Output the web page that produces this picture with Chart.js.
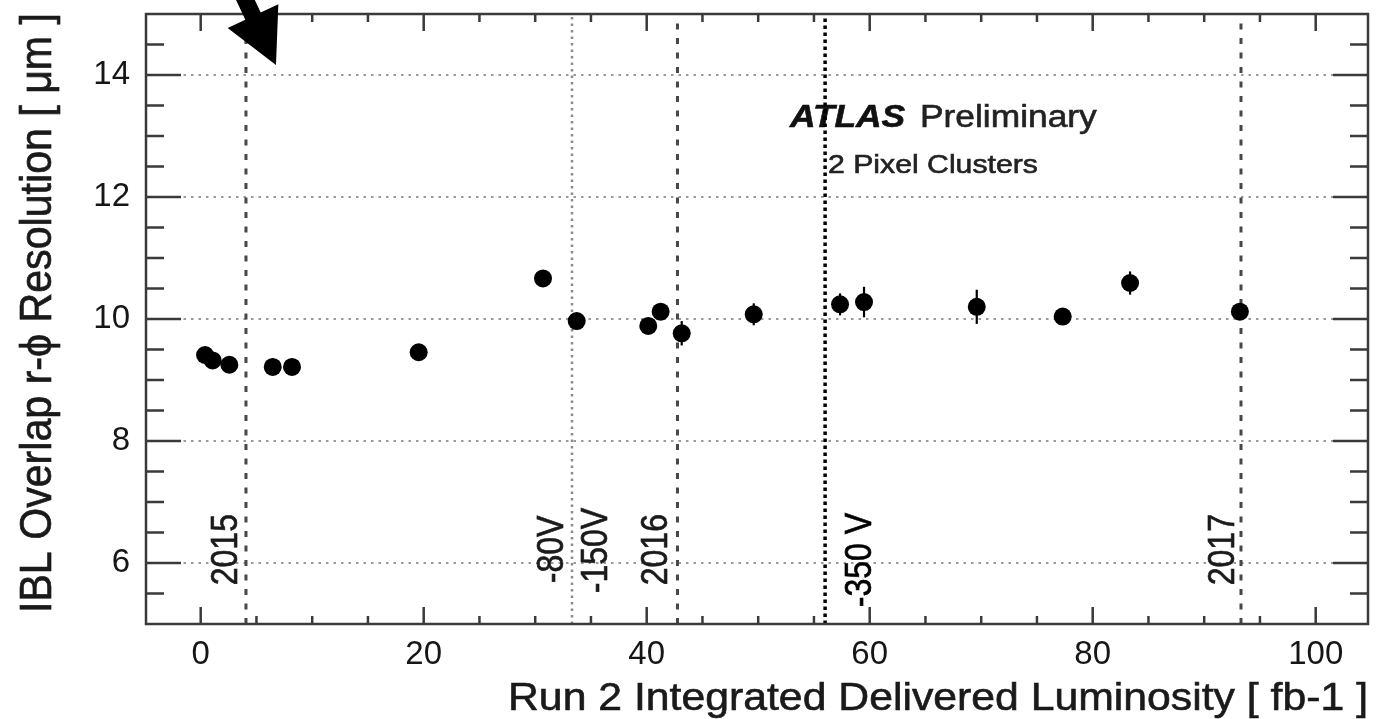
<!DOCTYPE html>
<html>
<head>
<meta charset="utf-8">
<title>IBL overlap resolution vs luminosity</title>
<script src="https://cdn.jsdelivr.net/npm/chart.js@4.4.1/dist/chart.umd.min.js"></script>
<style>
  html, body { margin: 0; padding: 0; background: #fff; }
  #wrap { width: 1392px; height: 719px; }
</style>
</head>
<body>
<div id="wrap"><canvas id="resChart" width="1392" height="719"></canvas></div>
<script>
// integrated delivered luminosity of each measurement [fb-1]
const lumi = [0.39, 1.07, 2.57, 6.46, 8.19, 19.55, 30.7, 33.72, 40.14, 41.25, 43.14, 49.6, 57.34, 59.49, 69.6, 77.31, 83.35, 93.2];
// IBL overlap r-phi resolution [um]
const resolution = [9.41, 9.32, 9.25, 9.215, 9.215, 9.455, 10.665, 9.967, 9.886, 10.12, 9.766, 10.077, 10.24, 10.278, 10.2, 10.04, 10.59, 10.12];
const resError = [0.05, 0.05, 0.05, 0.05, 0.05, 0.05, 0.08, 0.05, 0.05, 0.08, 0.2, 0.18, 0.18, 0.25, 0.28, 0.05, 0.19, 0.06];

const xTicks = [0, 20, 40, 60, 80, 100];
const yTicks = [6, 8, 10, 12, 14];

// start of each data taking year
const yearLumi = [4.06, 42.76, 93.3];
const yearText = ["2015", "2016", "2017"];
// bias voltage changes
const hvLumi = [33.3, 56.0];

const FONT = '"Liberation Sans", Arial, Helvetica, sans-serif';
const SX = 1.14; // original figure is a bit stretched sideways

function putText(ctx, str, x, y, opts) {
    ctx.save();
    ctx.font = opts.font;
    ctx.fillStyle = opts.color || "#1a1a1a";
    ctx.strokeStyle = opts.color || "#1a1a1a";
    ctx.lineWidth = 0.6;
    ctx.textAlign = "left";
    ctx.textBaseline = "alphabetic";
    ctx.translate(x, y);
    ctx.scale(SX, 1);
    if (opts.rot) ctx.rotate(-Math.PI / 2);
    if (opts.len) {
        const w = ctx.measureText(str).width;
        const along = opts.rot ? opts.len : opts.len / SX;
        ctx.scale(along / w, 1);
    }
    ctx.fillText(str, 0, 0);
    ctx.strokeText(str, 0, 0); // slightly heavier, like the scanned original
    ctx.restore();
}

function vline(ctx, area, px, color, width, dash) {
    ctx.save();
    ctx.strokeStyle = color;
    ctx.lineWidth = width;
    ctx.setLineDash(dash);
    ctx.beginPath();
    ctx.moveTo(px, area.bottom);
    ctx.lineTo(px, area.top);
    ctx.stroke();
    ctx.restore();
}

const decorations = {
    id: "decorations",
    beforeDatasetsDraw(chart) {
        const ctx = chart.ctx;
        const area = chart.chartArea;
        const xs = chart.scales.x;
        const ys = chart.scales.y;

        // dotted horizontal grid
        ctx.save();
        ctx.strokeStyle = "#9a9a9a";
        ctx.lineWidth = 2;
        ctx.setLineDash([2.5, 5]);
        yTicks.forEach(v => {
            const py = ys.getPixelForValue(v);
            ctx.beginPath();
            ctx.moveTo(area.left, py);
            ctx.lineTo(area.right, py);
            ctx.stroke();
        });
        ctx.restore();

        // labels
        putText(ctx, "ATLAS", xs.getPixelForValue(52.85), ys.getPixelForValue(13.155),
            { font: "italic bold 31px " + FONT, color: "#111" });
        putText(ctx, "Preliminary", xs.getPixelForValue(64.51), ys.getPixelForValue(13.155),
            { font: "31px " + FONT, color: "#222" });
        putText(ctx, "2 Pixel Clusters", xs.getPixelForValue(56.26), ys.getPixelForValue(12.392),
            { font: "26.5px " + FONT, color: "#222" });

        const yearStart = [5.635, 5.635, 5.635];
        const yearDx = [-9, -10, -7];
        yearLumi.forEach((v, i) => {
            const px = xs.getPixelForValue(v);
            vline(ctx, area, px, "#474747", 3, [6, 8.5]);
            putText(ctx, yearText[i], px + yearDx[i], ys.getPixelForValue(yearStart[i]),
                { font: "32px " + FONT, rot: true, color: "#1a1a1a" });
        });

        const p80 = xs.getPixelForValue(hvLumi[0]);
        vline(ctx, area, p80, "#8c8c8c", 2.5, [2.5, 4]);
        putText(ctx, "-80V", p80 - 9, ys.getPixelForValue(5.668), { font: "32px " + FONT, rot: true, color: "#1a1a1a" });
        putText(ctx, "-150V", p80 + 35, ys.getPixelForValue(5.504), { font: "32px " + FONT, rot: true, color: "#1a1a1a" });

        const p350 = xs.getPixelForValue(hvLumi[1]);
        vline(ctx, area, p350, "#000", 3.5, [3.5, 3.5]);
        putText(ctx, "-350 V", p350 + 46, ys.getPixelForValue(5.275), { font: "32px " + FONT, rot: true, color: "#000" });

        // error bars
        ctx.save();
        ctx.strokeStyle = "#000";
        ctx.lineWidth = 2.2;
        lumi.forEach((v, i) => {
            const px = xs.getPixelForValue(v);
            ctx.beginPath();
            ctx.moveTo(px, ys.getPixelForValue(resolution[i] - resError[i]));
            ctx.lineTo(px, ys.getPixelForValue(resolution[i] + resError[i]));
            ctx.stroke();
        });
        ctx.restore();
    },
    afterDatasetsDraw(chart) {
        const ctx = chart.ctx;
        const area = chart.chartArea;
        const xs = chart.scales.x;
        const ys = chart.scales.y;

        ctx.save();
        ctx.strokeStyle = "#3a3a3a";
        ctx.lineWidth = 2.5;
        ctx.strokeRect(area.left, area.top, area.right - area.left, area.bottom - area.top);

        // inward ticks on all four sides
        ctx.beginPath();
        for (let v = 0; v <= xs.max; v += 5) {
            const px = xs.getPixelForValue(v);
            const len = v % 20 === 0 ? 17 : 8;
            ctx.moveTo(px, area.bottom); ctx.lineTo(px, area.bottom - len);
            ctx.moveTo(px, area.top); ctx.lineTo(px, area.top + len);
        }
        for (let v = 5.5; v < ys.max; v += 0.5) {
            const py = ys.getPixelForValue(v);
            const len = v % 2 === 0 ? 35 : 18;
            ctx.moveTo(area.left, py); ctx.lineTo(area.left + len, py);
            ctx.moveTo(area.right, py); ctx.lineTo(area.right - len, py);
        }
        ctx.stroke();
        ctx.restore();

        // axis titles
        putText(ctx, "Run 2 Integrated Delivered Luminosity [ fb-1 ]", area.right - 860, area.bottom + 86,
            { font: "38px " + FONT, len: 860, color: "#1a1a1a" });
        putText(ctx, "IBL Overlap r-\u03d5 Resolution [ \u03bcm ]", 51, area.bottom - 11,
            { font: "39px " + FONT, rot: true, len: 600, color: "#1a1a1a" });

        // arrow pointing into the plot
        const tipX = xs.getPixelForValue(6.75);
        const tipY = ys.getPixelForValue(14.164);
        const ux = -0.425, uy = -0.905; // direction from tip back along the shaft
        const headLen = 54, headHalf = 28, shaftHalf = 8.5;
        const bx = tipX + ux * headLen, by = tipY + uy * headLen;
        ctx.save();
        ctx.fillStyle = "#000";
        ctx.beginPath();
        ctx.moveTo(tipX, tipY);
        ctx.lineTo(bx - uy * headHalf, by + ux * headHalf);
        ctx.lineTo(bx - uy * shaftHalf, by + ux * shaftHalf);
        ctx.lineTo(bx - uy * shaftHalf + ux * 60, by + ux * shaftHalf + uy * 60);
        ctx.lineTo(bx + uy * shaftHalf + ux * 60, by - ux * shaftHalf + uy * 60);
        ctx.lineTo(bx + uy * shaftHalf, by - ux * shaftHalf);
        ctx.lineTo(bx + uy * headHalf, by - ux * headHalf);
        ctx.closePath();
        ctx.fill();
        ctx.restore();
    }
};

new Chart(document.getElementById("resChart"), {
    type: "scatter",
    data: {
        datasets: [{
            data: lumi.map((x, i) => ({ x: x, y: resolution[i] })),
            backgroundColor: "#000",
            borderColor: "#000",
            borderWidth: 0,
            pointRadius: 9,
            pointHoverRadius: 9
        }]
    },
    options: {
        responsive: false,
        animation: false,
        layout: { padding: { left: 0, right: 24, top: 14, bottom: 0 } },
        plugins: { legend: { display: false }, tooltip: { enabled: false } },
        scales: {
            x: {
                type: "linear",
                min: -4.906,
                max: 104.69,
                grid: { display: false },
                border: { display: false },
                afterBuildTicks: s => { s.ticks = xTicks.map(v => ({ value: v })); },
                afterFit: s => { s.height = 95; s.paddingLeft = 0; s.paddingRight = 0; },
                ticks: { font: { family: FONT, size: 33 }, color: "#161616", padding: 3, maxRotation: 0, autoSkip: false }
            },
            y: {
                type: "linear",
                min: 5,
                max: 15,
                grid: { display: false },
                border: { display: false },
                afterBuildTicks: s => { s.ticks = yTicks.map(v => ({ value: v })); },
                afterFit: s => { s.width = 146; s.paddingTop = 0; s.paddingBottom = 0; },
                ticks: { font: { family: FONT, size: 33 }, color: "#161616", padding: 8, autoSkip: false }
            }
        }
    },
    plugins: [decorations]
});
</script>
</body>
</html>
